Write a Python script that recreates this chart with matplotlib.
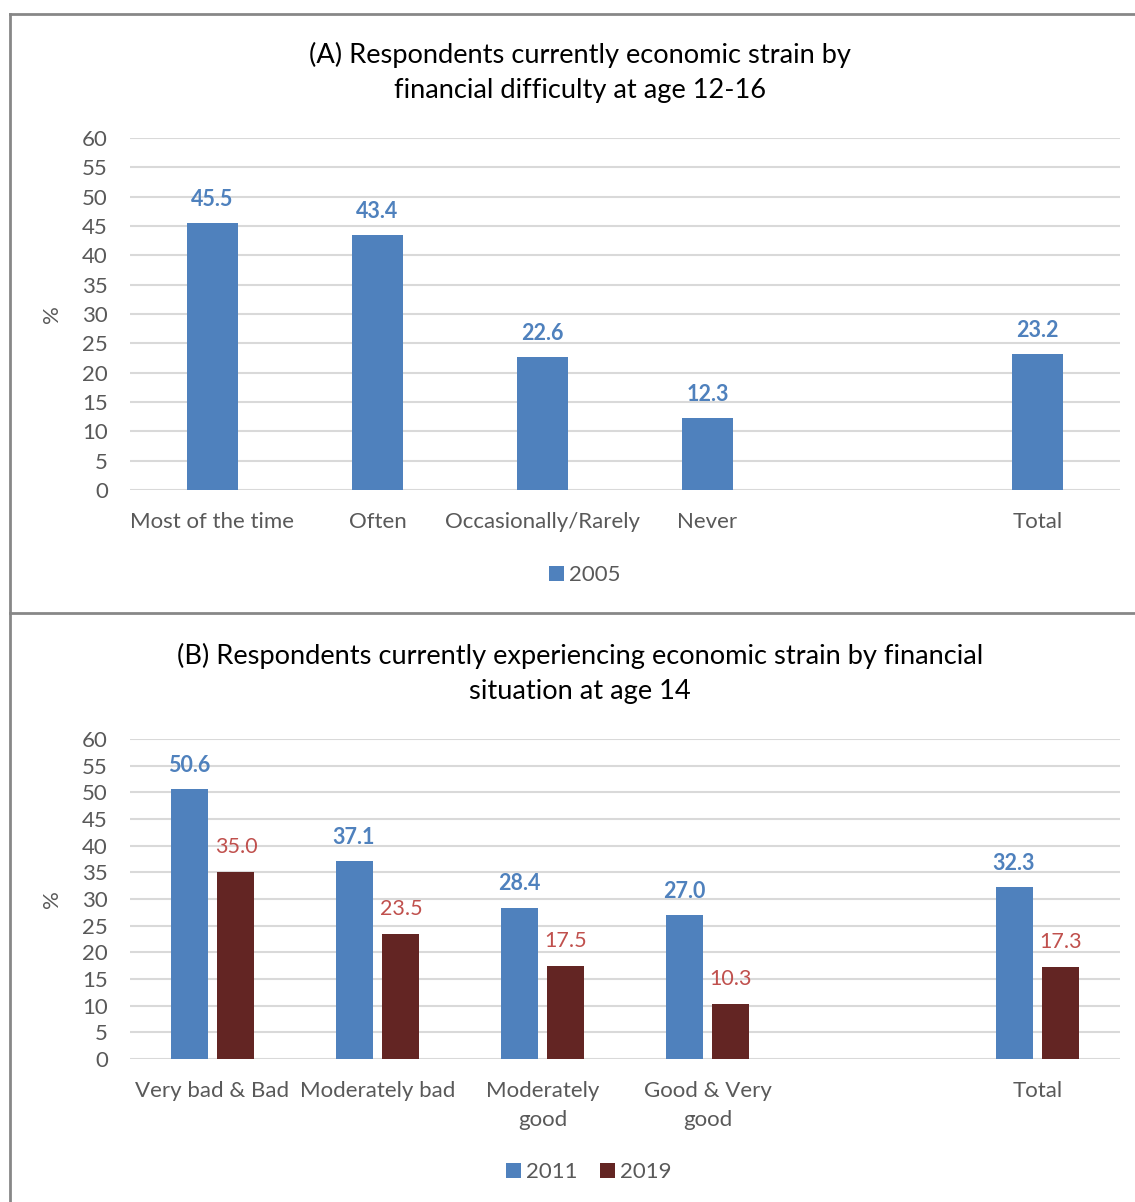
import numpy as np
import matplotlib.pyplot as plt
from matplotlib.lines import Line2D

plt.rcParams['font.family'] = ['Lato', 'DejaVu Sans']

# ------------------------------------------------------------
# Data
# ------------------------------------------------------------
cats_a = ["Most of the time", "Often", "Occasionally/Rarely", "Never", "", "Total"]
vals_2005 = [45.5, 43.4, 22.6, 12.3, np.nan, 23.2]

cats_b = ["Very bad & Bad", "Moderately bad", "Moderately\ngood", "Good & Very\ngood", "", "Total"]
vals_2011 = [50.6, 37.1, 28.4, 27.0, np.nan, 32.3]
vals_2019 = [35.0, 23.5, 17.5, 10.3, np.nan, 17.3]

title_a = "(A) Respondents currently economic strain by\nfinancial difficulty at age 12-16"
title_b = "(B) Respondents currently experiencing economic strain by financial\nsituation at age 14"

BLUE = "#4F81BD"
MAROON = "#632523"
RED_TXT = "#C0504D"
GREY_TXT = "#595959"
GRID = "#D9D9D9"

W, H = 1135, 1202
fig = plt.figure(figsize=(W / 100, H / 100), dpi=100)


def fx(px):
    return px / W


def fy(py):
    return 1 - py / H


def style_axis(ax, cats):
    ax.set_xlim(-0.5, len(cats) - 0.5)
    ax.set_ylim(0, 60)
    ax.set_yticks(np.arange(0, 61, 5))
    ax.set_xticks(np.arange(len(cats)))
    ax.set_xticklabels(cats, fontsize=16, color=GREY_TXT, linespacing=1.55)
    ax.tick_params(axis='y', labelsize=16, colors=GREY_TXT, length=0, pad=16)
    ax.tick_params(axis='x', length=0, pad=16)
    ax.grid(axis='y', color=GRID, linewidth=1.5)
    ax.set_axisbelow(True)
    for s in ax.spines.values():
        s.set_visible(False)
    ax.set_ylabel("%", fontsize=16, color=GREY_TXT, labelpad=14)


# ------------------------------------------------------------
# Panel A
# ------------------------------------------------------------
ax1 = fig.add_axes([fx(130), fy(490), fx(1120) - fx(130), fy(138) - fy(490)])
x = np.arange(len(cats_a))
ax1.bar(x, vals_2005, width=0.315, color=BLUE, label="2005")
for xi, v in zip(x, vals_2005):
    if not np.isnan(v):
        ax1.annotate(f"{v:.1f}", (xi, v), xytext=(0, 17), textcoords="offset points",
                     ha="center", va="center", fontsize=15.5, fontweight="bold", color=BLUE)
style_axis(ax1, cats_a)
ax1.legend(loc="center", bbox_to_anchor=(fx(585), fy(575)), bbox_transform=fig.transFigure,
           frameon=False, fontsize=16, labelcolor=GREY_TXT, handlelength=0.65, handleheight=0.65,
           handletextpad=0.25)
fig.text(fx(580), fy(72), title_a, ha="center", va="center", fontsize=19.6,
         color="black", linespacing=1.5)

# ------------------------------------------------------------
# Panel B
# ------------------------------------------------------------
ax2 = fig.add_axes([fx(130), fy(1059), fx(1120) - fx(130), fy(739) - fy(1059)])
x = np.arange(len(cats_b))
off = 0.142
ax2.bar(x - off, vals_2011, width=0.224, color=BLUE, label="2011")
ax2.bar(x + off, vals_2019, width=0.224, color=MAROON, label="2019")
for xi, v in zip(x, vals_2011):
    if not np.isnan(v):
        ax2.annotate(f"{v:.1f}", (xi - off, v), xytext=(0, 17), textcoords="offset points",
                     ha="center", va="center", fontsize=15.5, fontweight="bold", color=BLUE)
for xi, v in zip(x, vals_2019):
    if not np.isnan(v):
        ax2.annotate(f"{v:.1f}", (xi + off, v), xytext=(0, 18), textcoords="offset points",
                     ha="center", va="center", fontsize=15.5, color=RED_TXT)
style_axis(ax2, cats_b)
ax2.legend(loc="center", bbox_to_anchor=(fx(589), fy(1172)), bbox_transform=fig.transFigure,
           frameon=False, fontsize=16, labelcolor=GREY_TXT, ncol=2, handlelength=0.65,
           handleheight=0.65, handletextpad=0.25, columnspacing=1.0)
fig.text(fx(580), fy(673), title_b, ha="center", va="center", fontsize=19.6,
         color="black", linespacing=1.5)

# ------------------------------------------------------------
# Panel borders
# ------------------------------------------------------------
for xs, ys in [([10, 10], [14, H]), ([10, W], [14, 14]), ([10, W], [613, 613])]:
    fig.add_artist(Line2D([fx(p) for p in xs], [fy(p) for p in ys],
                          color="#878787", linewidth=2))

fig.savefig("out.png", dpi=100)
